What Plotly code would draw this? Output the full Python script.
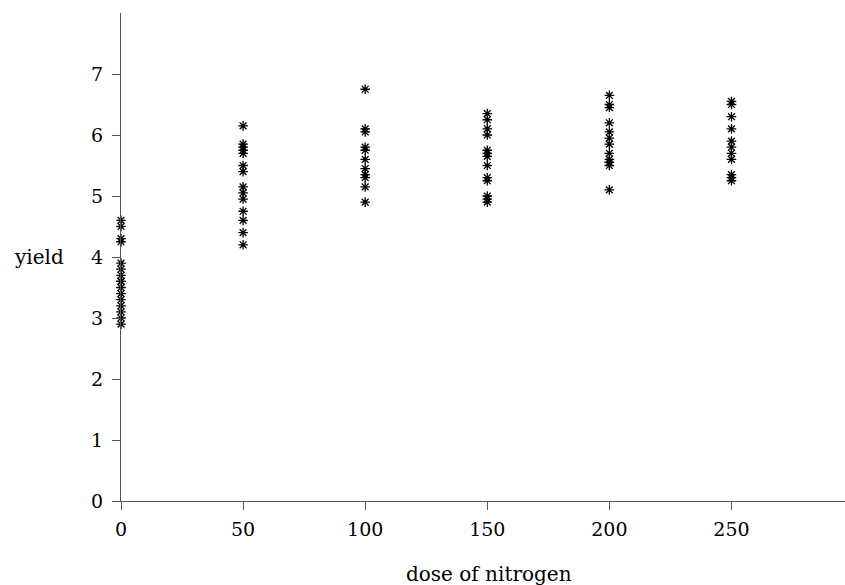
import plotly.graph_objects as go

doses = [0, 50, 100, 150, 200, 250]
yield_0 = [4.6, 4.5, 4.3, 4.25, 3.9, 3.8, 3.7, 3.6, 3.6, 3.5, 3.4, 3.3, 3.2, 3.1, 3.0, 2.9]
yield_50 = [6.15, 5.85, 5.8, 5.75, 5.7, 5.5, 5.4, 5.15, 5.05, 4.95, 4.75, 4.6, 4.4, 4.2]
yield_100 = [6.75, 6.1, 6.05, 5.8, 5.75, 5.6, 5.45, 5.35, 5.3, 5.15, 4.9]
yield_150 = [6.35, 6.25, 6.1, 6.0, 5.75, 5.7, 5.65, 5.5, 5.3, 5.25, 5.0, 4.95, 4.9]
yield_200 = [6.65, 6.5, 6.45, 6.2, 6.05, 5.95, 5.85, 5.7, 5.6, 5.55, 5.55, 5.5, 5.1]
yield_250 = [6.55, 6.5, 6.3, 6.1, 5.9, 5.8, 5.7, 5.6, 5.35, 5.3, 5.25]
x_ticks = [0, 50, 100, 150, 200, 250]
y_ticks = [0, 1, 2, 3, 4, 5, 6, 7]

groups = [yield_0, yield_50, yield_100, yield_150, yield_200, yield_250]
xs, ys = [], []
for d, g in zip(doses, groups):
    xs += [d] * len(g)
    ys += g

FONT = "DejaVu Serif"
fig = go.Figure(go.Scatter(
    x=xs, y=ys, mode="markers",
    marker=dict(symbol="asterisk-open", size=8, color="black",
                line=dict(color="black", width=1.3)),
    cliponaxis=False, showlegend=False,
))

axis_common = dict(showgrid=False, zeroline=False, showline=True,
                   linecolor="#555", linewidth=1, ticks="outside",
                   ticklen=8, tickcolor="#555", tickwidth=1,
                   tickfont=dict(family=FONT, size=19, color="black"))
fig.update_xaxes(range=[0, 296.5], tickvals=x_ticks, ticklabelstandoff=3,
                 **axis_common)
fig.update_yaxes(range=[0, 8], tickvals=y_ticks, ticklabelstandoff=5,
                 **axis_common)

fig.add_annotation(text="yield", xref="paper", yref="y", x=-0.1506, y=4,
                   xanchor="left", yanchor="middle", showarrow=False,
                   font=dict(family=FONT, size=20, color="black"))
fig.add_annotation(text="dose of nitrogen", xref="paper", yref="paper",
                   x=0.508, y=-0.150, xanchor="center", yanchor="middle",
                   showarrow=False, font=dict(family=FONT, size=20, color="black"))

fig.update_layout(width=845, height=585, plot_bgcolor="white",
                  paper_bgcolor="white",
                  margin=dict(l=121, r=0, t=13, b=84))
fig.write_html(
    "out.html",
    config={"displayModeBar": False},
    post_script="document.body.style.margin='0';"
                "document.body.style.overflow='hidden';"
                "document.documentElement.style.overflow='hidden';",
)
